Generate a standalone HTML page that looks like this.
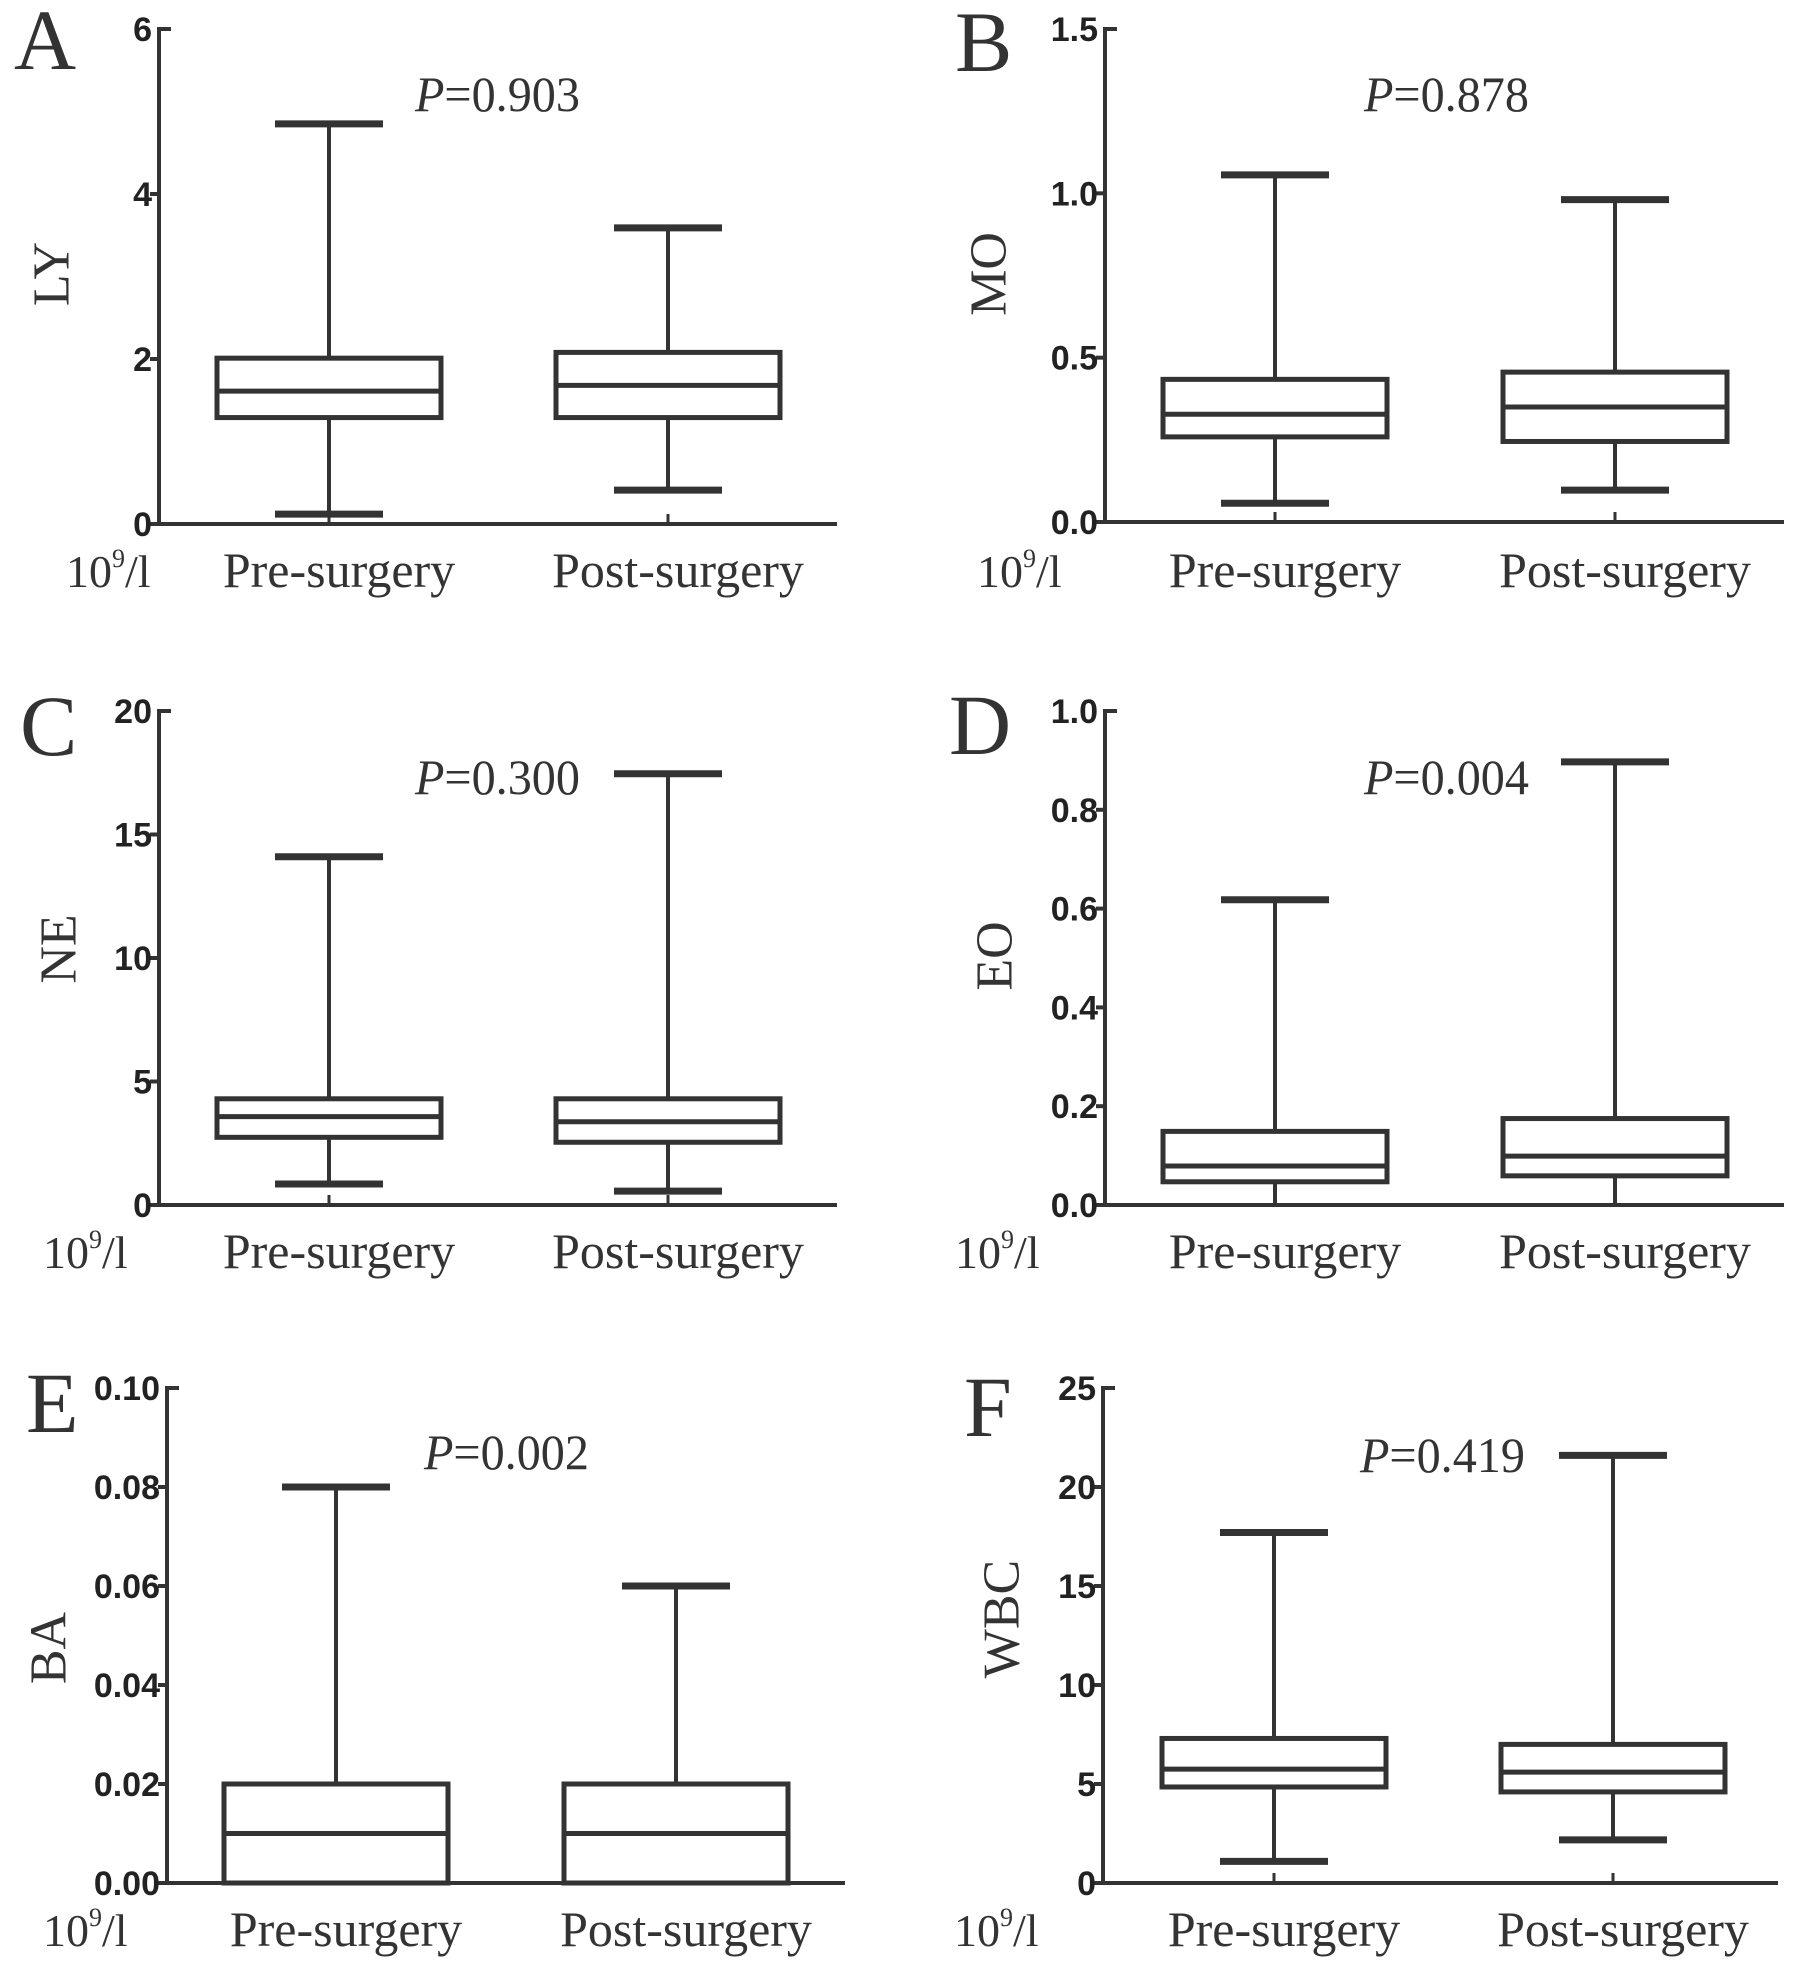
<!DOCTYPE html>
<html><head><meta charset="utf-8"><style>
html,body{margin:0;padding:0;background:#fff;}
svg{display:block;}
.tick{font-family:"Liberation Sans",sans-serif;font-size:34px;font-weight:bold;fill:#222;}
.serif{font-family:"Liberation Serif",serif;fill:#333;}
</style></head><body>
<svg id="fig" width="1795" height="1971" viewBox="0 0 1795 1971" xmlns="http://www.w3.org/2000/svg"></svg>
<script>
// Data: [min, q1, median, q3, max] per group
const categories = ["Pre-surgery", "Post-surgery"];
const lyPre = [0.12, 1.29, 1.61, 2.01, 4.85];
const lyPost = [0.41, 1.29, 1.68, 2.08, 3.59];
const moPre = [0.057, 0.259, 0.328, 0.434, 1.056];
const moPost = [0.097, 0.245, 0.350, 0.456, 0.981];
const nePre = [0.85, 2.74, 3.58, 4.3, 14.1];
const nePost = [0.56, 2.54, 3.37, 4.3, 17.46];
const eoPre = [0.0, 0.047, 0.079, 0.149, 0.618];
const eoPost = [0.0, 0.059, 0.099, 0.175, 0.897];
const baPre = [0.0, 0.0, 0.01, 0.02, 0.08];
const baPost = [0.0, 0.0, 0.01, 0.02, 0.06];
const wbcPre = [1.09, 4.85, 5.75, 7.3, 17.7];
const wbcPost = [2.18, 4.6, 5.6, 7.0, 21.6];
const lyTicks = [0, 2, 4, 6];
const moTicks = [0.0, 0.5, 1.0, 1.5];
const neTicks = [0, 5, 10, 15, 20];
const eoTicks = [0.0, 0.2, 0.4, 0.6, 0.8, 1.0];
const baTicks = [0.00, 0.02, 0.04, 0.06, 0.08, 0.10];
const wbcTicks = [0, 5, 10, 15, 20, 25];
const pValues = ["0.903", "0.878", "0.300", "0.004", "0.002", "0.419"];

const NS = "http://www.w3.org/2000/svg";
const svg = document.getElementById("fig");
const INK = "#333";
function mk(tag, attrs, parent) {
  const e = document.createElementNS(NS, tag);
  for (const k in attrs) e.setAttribute(k, attrs[k]);
  (parent || svg).appendChild(e);
  return e;
}
function line(g, x1, y1, x2, y2, w) {
  return mk("line", {x1, y1, x2, y2, stroke: INK, "stroke-width": w, "stroke-linecap": "butt"}, g);
}

const panels = [
  {id:"a", letter:"A", ylab:"LY", pre:lyPre, post:lyPost, ticks:lyTicks, dec:0, ax:159, end:837, top:29, zero:524, c:[329,668], lx:14, ly:69, px:415, py:111, ux:66, lb:587, ylx:52, yly:274, ycol:INK},
  {id:"b", letter:"B", ylab:"MO", pre:moPre, post:moPost, ticks:moTicks, dec:1, ax:1105, end:1784, top:29, zero:522, c:[1275,1615], lx:955, ly:71, px:1364, py:111, ux:977, lb:587, ylx:989, yly:274, ycol:INK},
  {id:"c", letter:"C", ylab:"NE", pre:nePre, post:nePost, ticks:neTicks, dec:0, ax:159, end:837, top:711, zero:1205, c:[329,668], lx:20, ly:755, px:415, py:794, ux:43, lb:1268, ylx:59, yly:949, ycol:INK},
  {id:"d", letter:"D", ylab:"EO", pre:eoPre, post:eoPost, ticks:eoTicks, dec:1, ax:1105, end:1784, top:711, zero:1205, c:[1275,1615], lx:949, ly:754, px:1364, py:794, ux:955, lb:1268, ylx:995, yly:956, ycol:"#aaa"},
  {id:"e", letter:"E", ylab:"BA", pre:baPre, post:baPost, ticks:baTicks, dec:2, ax:167, end:845, top:1388, zero:1883, c:[336,676], lx:26, ly:1432, px:424, py:1469, ux:43, lb:1946, ylx:49, yly:1648, ycol:INK},
  {id:"f", letter:"F", ylab:"WBC", pre:wbcPre, post:wbcPost, ticks:wbcTicks, dec:0, ax:1103, end:1778, top:1388, zero:1883, c:[1274,1613], lx:964, ly:1436, px:1360, py:1472, ux:954, lb:1946, ylx:1002, yly:1619, ycol:INK}
];

panels.forEach((p, pi) => {
  const g = mk("g", {});
  
  
  const tmax = p.ticks[p.ticks.length - 1], tmin = p.ticks[0];
  const yS = v => p.zero - (v - tmin) / (tmax - tmin) * (p.zero - p.top);

  const L = mk("text", {x:p.lx, y:p.ly, class:"serif", "font-size":86, fill:"#222"}, g);
  L.textContent = p.letter;
  
  

  const ya = line(g, p.ax, p.top - 2, p.ax, p.zero + 2, 4);
  
  
  const xa = line(g, p.ax - 2, p.zero, p.end, p.zero, 4);
  
  

  p.ticks.forEach((t, i) => {
    const y = yS(t);
    if (i === p.ticks.length - 1) line(g, p.ax, y, p.ax + 12, y, 4);
    else line(g, p.ax - 9, y, p.ax, y, 4);
    const tl = mk("text", {x:p.ax - 7, y:y + 12, class:"tick", "text-anchor":"end"}, g);
    tl.textContent = t.toFixed(p.dec);
    
    
  });

  const yt = mk("text", {x:p.ylx, y:p.yly, class:"serif", "font-size":52, "text-anchor":"middle", "dominant-baseline":"central", transform:`rotate(-90 ${p.ylx} ${p.yly})`, fill:p.ycol}, g);
  yt.textContent = p.ylab;
  
  

  const u = mk("text", {x:p.ux, y:p.lb, class:"serif", "font-size":46}, g);
  u.innerHTML = '10<tspan font-size="26" dy="-20">9</tspan><tspan dy="20">/l</tspan>';
  
  

  const pv = mk("text", {x:p.px, y:p.py, class:"serif", "font-size":50, textLength:165, lengthAdjust:"spacingAndGlyphs"}, g);
  pv.innerHTML = '<tspan font-style="italic">P</tspan>=' + pValues[pi];
  
  

  [p.pre, p.post].forEach((d, k) => {
    const cx = p.c[k];
    const bg = mk("g", {}, g);
    
    
    line(bg, cx, p.zero, cx, p.zero - 10, 3);
    line(bg, cx, yS(d[0]), cx, yS(d[1]), 4);
    line(bg, cx, yS(d[3]), cx, yS(d[4]), 4);
    line(bg, cx - 54, yS(d[4]), cx + 54, yS(d[4]), 7);
    if (d[0] > tmin) line(bg, cx - 54, yS(d[0]), cx + 54, yS(d[0]), 7);
    const r = mk("rect", {x:cx - 112, y:yS(d[3]), width:224, height:Math.max(0, yS(d[1]) - yS(d[3])), fill:"#fff", stroke:INK, "stroke-width":5}, bg);
    
    
    const m = line(bg, cx - 112, yS(d[2]), cx + 112, yS(d[2]), 5);
    
    
    const cl = mk("text", {x:cx + 10, y:p.lb, class:"serif", "font-size":50, "text-anchor":"middle"}, g);
    cl.textContent = categories[k];
    
    
  });
});
</script>
</body></html>
